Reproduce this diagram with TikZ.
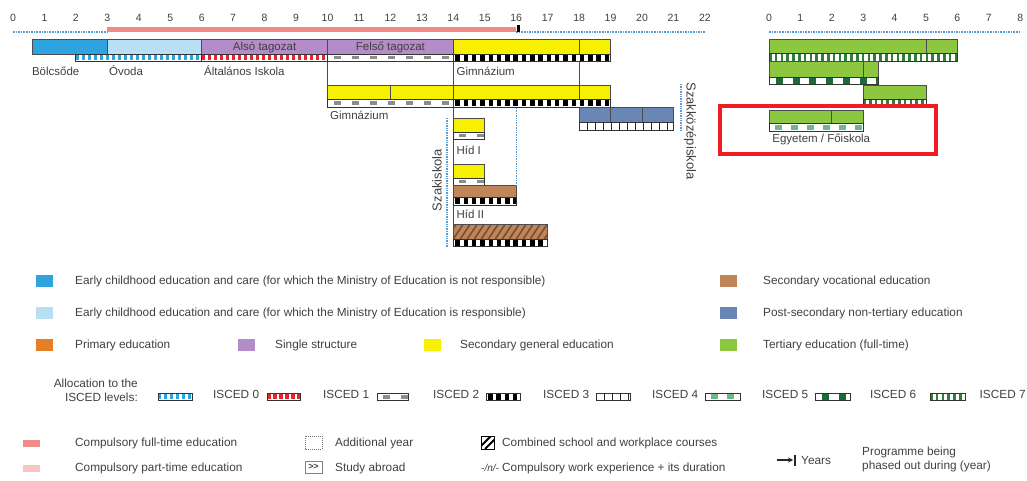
\documentclass[tikz,border=0pt]{standalone}
\usepackage{fontspec}
\setmainfont{Liberation Sans}
\usetikzlibrary{arrows.meta}

\definecolor{kbluedark}{HTML}{2EA3DE}
\definecolor{kbluelight}{HTML}{B9DFF4}
\definecolor{kpurple}{HTML}{B48DC8}
\definecolor{kyellow}{HTML}{F7F000}
\definecolor{kslate}{HTML}{6A86B4}
\definecolor{kbrown}{HTML}{C0865A}
\definecolor{kgreen}{HTML}{8DC63F}
\definecolor{korange}{HTML}{E47F26}
\definecolor{kaxis}{HTML}{5B9BD5}
\definecolor{ksalmon}{HTML}{F28A85}
\definecolor{kpink}{HTML}{F7C6C4}
\definecolor{kred}{HTML}{E3262E}
\definecolor{kbox}{HTML}{EE1C24}
\definecolor{kdkgreen}{HTML}{1D6A3A}
\definecolor{kltgreen}{HTML}{72B683}
\definecolor{ktext}{HTML}{404040}

% bar and ISCED strip under it
\newcommand{\edubar}[5]{\draw[barbox, fill=#5] (#1,#3) rectangle (#2,#4);}
\newcommand{\iscedstrip}[4]{%
  \begin{scope}
    \clip (#1,#3) rectangle (#2,#3+7.5);
    \fill[white] (#1,#3) rectangle (#2,#3+7.5);
    \draw[#4] (#1,#3+3.75) -- (#2,#3+3.75);
  \end{scope}
  \draw[stripbox] (#1,#3) rectangle (#2,#3+7.5);}

\begin{document}
\begin{tikzpicture}[x=1pt, y=-1pt,
  lbl/.style={text=ktext, font=\fontsize{11.5}{12}\selectfont, inner sep=0pt, anchor=west},
  tick/.style={text=ktext, font=\fontsize{10.5}{11}\selectfont, inner sep=0pt},
  vlbl/.style={text=ktext, font=\fontsize{13}{14}\selectfont, inner sep=0pt},
  legtext/.style={text=ktext, font=\fontsize{11.8}{14}\selectfont, inner sep=0pt, anchor=west},
  swatch/.style={minimum width=17pt, minimum height=12pt, inner sep=0pt},
  barbox/.style={draw=black!70, line width=0.9pt},
  stripbox/.style={draw=black!80, line width=0.9pt},
  link/.style={draw=black!70, line width=0.9pt},
  bracket/.style={kaxis, line width=1.4pt, densely dotted},
  axisline/.style={kaxis, line width=1.6pt, densely dotted},
  isced0/.style={kbluedark, line width=5pt, dash pattern=on 3pt off 3pt},
  isced1/.style={kred, line width=5pt, dash pattern=on 3.5pt off 2.5pt},
  isced2/.style={black!45, line width=3.5pt, dash pattern=on 7pt off 11pt, dash phase=12pt},
  isced3/.style={black, line width=6pt, dash pattern=on 4.5pt off 3.8pt, dash phase=6.3pt},
  isced4/.style={black!85, line width=7.5pt, dash pattern=on 1pt off 7pt, dash phase=0.5pt},
  isced5/.style={kltgreen, line width=5pt, dash pattern=on 7pt off 9pt, dash phase=10pt},
  isced6/.style={kdkgreen, line width=6pt, dash pattern=on 7pt off 9.7pt, dash phase=9.7pt},
  isced7/.style={kdkgreen!80!kgreen, line width=7.5pt, dash pattern=on 2.5pt off 3.3pt},
  hatch/.style={kbrown!60!black, line width=1.6pt},
]
\useasboundingbox (0,0) rectangle (1027,481);

% left chart, x in years
\begin{scope}[xshift=13pt, x=31.45pt]
  \foreach \i in {0,...,22}
    \node[tick] (t\i) at (\i,17.5) {\i};
  \draw[axisline] (0,32) -- (3,32);
  \draw[axisline] (16,32) -- (22,32);
  \draw[ksalmon, line width=5pt] (3,29.5) -- (16,29.5);
  \draw[black, line width=2.5pt] (16.08,25) -- (16.08,32.5);

  % links between rows
  \coordinate (r1end10) at (10,61.5);
  \coordinate (r2top10) at (10,85);
  \coordinate (r1end14) at (14,61.5);
  \coordinate (hatchtop) at (14,224);
  \coordinate (r1end18) at (18,61.5);
  \coordinate (posttop) at (18,107);
  \draw[link] (r1end10) -- (r2top10);
  \draw[link] (r1end14) -- (hatchtop);
  \draw[link] (r1end18) -- (posttop);

  % row 1
  \edubar{0.62}{3}{39.5}{54}{kbluedark}
  \edubar{3}{6}{39.5}{54}{kbluelight}
  \edubar{6}{10}{39.5}{54}{kpurple}
  \edubar{10}{14}{39.5}{54}{kpurple}
  \edubar{14}{18}{39.5}{54}{kyellow}
  \edubar{18}{19}{39.5}{54}{kyellow}
  \iscedstrip{2}{6}{54}{isced0}
  \iscedstrip{6}{10}{54}{isced1}
  \iscedstrip{10}{14}{54}{isced2}
  \iscedstrip{14}{19}{54}{isced3}
  \node[lbl, anchor=center] (also) at (8,47) {Alsó tagozat};
  \node[lbl, anchor=center] (felso) at (12,47) {Felső tagozat};
  \node[lbl] (bolcsode) at (0.6,71) {Bölcsőde};
  \node[lbl] (ovoda) at (3.05,71) {Óvoda};
  \node[lbl] (altalanos) at (6.07,71) {Általános Iskola};
  \node[lbl] (gimn1) at (14.1,71) {Gimnázium};

  % row 2
  \edubar{10}{12}{85}{99.5}{kyellow}
  \edubar{12}{14}{85}{99.5}{kyellow}
  \edubar{14}{18}{85}{99.5}{kyellow}
  \edubar{18}{19}{85}{99.5}{kyellow}
  \iscedstrip{10}{14}{99.5}{isced2}
  \iscedstrip{14}{19}{99.5}{isced3}
  \node[lbl] (gimn2) at (10.08,115) {Gimnázium};

  % post-secondary
  \edubar{18}{19}{107}{122.5}{kslate}
  \edubar{19}{20}{107}{122.5}{kslate}
  \edubar{20}{21}{107}{122.5}{kslate}
  \iscedstrip{18}{21}{122.5}{isced4}

  % vocational branch
  \edubar{14}{15}{118}{132}{kyellow}
  \iscedstrip{14}{15}{132}{isced2}
  \node[lbl] (hid1) at (14.1,150) {Híd I};
  \edubar{14}{15}{164}{178}{kyellow}
  \iscedstrip{14}{15}{178}{isced2}
  \edubar{14}{16}{185.5}{197.5}{kbrown}
  \iscedstrip{14}{16}{197.5}{isced3}
  \node[lbl] (hid2) at (14.1,214) {Híd II};
  \begin{scope}
    \clip (14,224) rectangle (17,239);
    \fill[kbrown] (14,224) rectangle (17,239);
    \foreach \k in {-2,...,14}
      \draw[hatch] ({14+\k*0.2225},239) -- ++(10pt,15pt);
  \end{scope}
  \draw[barbox] (14,224) rectangle (17,239);
  \iscedstrip{14}{17}{239}{isced3}

  % school type brackets
  \draw[bracket] (16,108) -- (16,185);
  \draw[bracket] (13.8,118) -- (13.8,247);
  \draw[bracket] (21.24,84) -- (21.24,130);
  \node[vlbl, rotate=90] (szakiskola) at (13.48,180) {Szakiskola};
  \node[vlbl, rotate=-90] (szakkozep) at (21.53,131) {Szakközépiskola};
\end{scope}

% right chart, tertiary
\begin{scope}[xshift=769pt, x=31.4pt]
  \foreach \i in {0,...,8}
    \node[tick] (u\i) at (\i,17.5) {\i};
  \draw[axisline] (0,32) -- (8,32);
  \edubar{0}{5}{39.5}{53.5}{kgreen}
  \edubar{5}{6}{39.5}{53.5}{kgreen}
  \iscedstrip{0}{6}{53.5}{isced7}
  \edubar{0}{3}{61.5}{77}{kgreen}
  \edubar{3}{3.5}{61.5}{77}{kgreen}
  \iscedstrip{0}{3.5}{77}{isced6}
  \edubar{3}{5}{85}{99}{kgreen}
  \iscedstrip{3}{5}{99}{isced7}
  \edubar{0}{2}{110}{123.5}{kgreen}
  \edubar{2}{3}{110}{123.5}{kgreen}
  \iscedstrip{0}{3}{123.5}{isced5}
  \node[lbl] (egyetem) at (0.1,139) {Egyetem / Főiskola};
\end{scope}
\draw[kbox, line width=4pt] (720,106) rectangle (936,154);

% legend: colours
\node[swatch, fill=kbluedark] (sw1) at (44.5,281) {};
\node[legtext] (lg1) at (75,281) {Early childhood education and care (for which the Ministry of Education is not responsible)};
\node[swatch, fill=kbluelight] (sw2) at (44.5,313) {};
\node[legtext] (lg2) at (75,313) {Early childhood education and care (for which the Ministry of Education is responsible)};
\node[swatch, fill=korange] (sw3) at (44.5,345) {};
\node[legtext] (lg3) at (75,345) {Primary education};
\node[swatch, fill=kpurple] (sw4) at (246.5,345) {};
\node[legtext] (lg4) at (275,345) {Single structure};
\node[swatch, fill=kyellow] (sw5) at (432.5,345) {};
\node[legtext] (lg5) at (460,345) {Secondary general education};
\node[swatch, fill=kbrown] (sw6) at (728.5,281) {};
\node[legtext] (lg6) at (763,281) {Secondary vocational education};
\node[swatch, fill=kslate] (sw7) at (728.5,313) {};
\node[legtext] (lg7) at (763,313) {Post-secondary non-tertiary education};
\node[swatch, fill=kgreen] (sw8) at (728.5,345) {};
\node[legtext] (lg8) at (763,345) {Tertiary education (full-time)};

% legend: ISCED levels
\node[legtext, anchor=east, align=right] (alloc) at (138,390) {Allocation to the\\ISCED levels:};
\iscedstrip{158}{192}{393}{isced0}
\node[legtext] (is0) at (213,394) {ISCED 0};
\iscedstrip{267}{300}{393}{isced1}
\node[legtext] (is1) at (323,394) {ISCED 1};
\iscedstrip{377}{408}{393}{isced2}
\node[legtext] (is2) at (433,394) {ISCED 2};
\iscedstrip{486}{520}{393}{isced3}
\node[legtext] (is3) at (543,394) {ISCED 3};
\iscedstrip{596}{630}{393}{isced4}
\node[legtext] (is4) at (652,394) {ISCED 4};
\iscedstrip{705}{740}{393}{isced5}
\node[legtext] (is5) at (762,394) {ISCED 5};
\iscedstrip{815}{850}{393}{isced6}
\node[legtext] (is6) at (870,394) {ISCED 6};
\iscedstrip{930}{965}{393}{isced7}
\node[legtext] (is7) at (979.5,394) {ISCED 7};

% legend: other marks
\fill[ksalmon] (23,440) rectangle (40,447);
\node[legtext] (full) at (75,443) {Compulsory full-time education};
\fill[kpink] (23,465) rectangle (40,472);
\node[legtext] (part) at (75,468) {Compulsory part-time education};
\draw[black!55, densely dotted, line width=1pt] (305,436) rectangle (322,449);
\node[legtext] (addyear) at (335,443) {Additional year};
\node[draw=black!50, minimum width=17pt, minimum height=12pt, inner sep=0pt,
      text=ktext, font=\fontsize{9}{9}\selectfont\bfseries] (abroadbox) at (313.5,467) {\textgreater\kern-0.5pt\textgreater};
\node[legtext] (abroad) at (335,468) {Study abroad};
\begin{scope}
  \clip (481,436) rectangle (494,449);
  \draw[black, line width=2pt] (478,449) -- ++(13pt,13pt);
  \draw[black, line width=2pt] (485,449) -- ++(13pt,13pt);
\end{scope}
\draw[black, line width=0.9pt] (481,436) rectangle (494,449);
\node[legtext] (combined) at (502,443) {Combined school and workplace courses};
\node[legtext, font=\fontsize{10}{12}\selectfont\itshape] (nmark) at (481,468) {-/n/-};
\node[legtext] (workexp) at (502,468) {Compulsory work experience + its duration};
\draw[-{Stealth[length=5pt,width=5pt]}, black!85, line width=1.1pt] (777,460) -- (793,460);
\draw[black!85, line width=1.3pt] (795,454.5) -- (795,465.5);
\node[legtext] (years) at (801,460) {Years};
\node[legtext, align=left] (phased) at (862,459) {Programme being\\phased out during (year)};
\end{tikzpicture}
\end{document}
